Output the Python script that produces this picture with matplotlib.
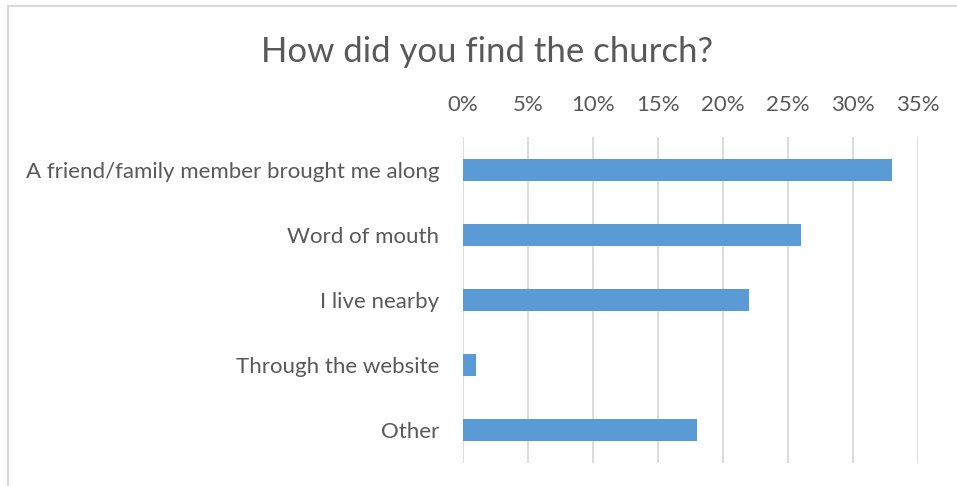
import matplotlib.pyplot as plt
from matplotlib.lines import Line2D
from matplotlib.ticker import FuncFormatter

categories = [
    "A friend/family member brought me along",
    "Word of mouth",
    "I live nearby",
    "Through the website",
    "Other",
]
shares = [33, 26, 22, 1, 18]
xticks = [0, 5, 10, 15, 20, 25, 30, 35]

text_color = "#595959"
grid_color = "#d9d9d9"
bar_color = "#5b9bd5"

plt.rcParams["font.family"] = ["Lato", "DejaVu Sans"]

fig = plt.figure(figsize=(9.57, 4.86), dpi=100)
ax = fig.add_axes([0.4835, 0.0473, 0.4757, 0.6708])

ypos = list(range(len(categories)))
ax.barh(ypos, shares, height=0.34, color=bar_color, zorder=3)

ax.set_ylim(len(categories) - 0.5, -0.5)
ax.set_xlim(0, 35)
ax.set_xticks(xticks)
ax.xaxis.set_major_formatter(FuncFormatter(lambda v, _: f"{v:.0f}%"))
ax.xaxis.tick_top()
ax.set_yticks(ypos)
ax.set_yticklabels(categories)

ax.tick_params(axis="x", length=0, pad=16, labelsize=16, labelcolor=text_color)
ax.tick_params(axis="y", length=0, pad=17, labelsize=16, labelcolor=text_color)
ax.grid(axis="x", color=grid_color, linewidth=1.3, zorder=0)
for s in ax.spines.values():
    s.set_visible(False)

fig.text(0.509, 1 - 61.7 / 486, "How did you find the church?", ha="center",
         va="baseline", fontsize=25, color=text_color)

# outer frame: left and top edges only
fig.add_artist(Line2D([8 / 957, 8 / 957], [0, 1 - 6 / 486], transform=fig.transFigure,
                      color=grid_color, linewidth=1.5))
fig.add_artist(Line2D([8 / 957, 1], [1 - 6 / 486, 1 - 6 / 486], transform=fig.transFigure,
                      color=grid_color, linewidth=1.5))

fig.savefig("out.png", dpi=100, facecolor="white")
